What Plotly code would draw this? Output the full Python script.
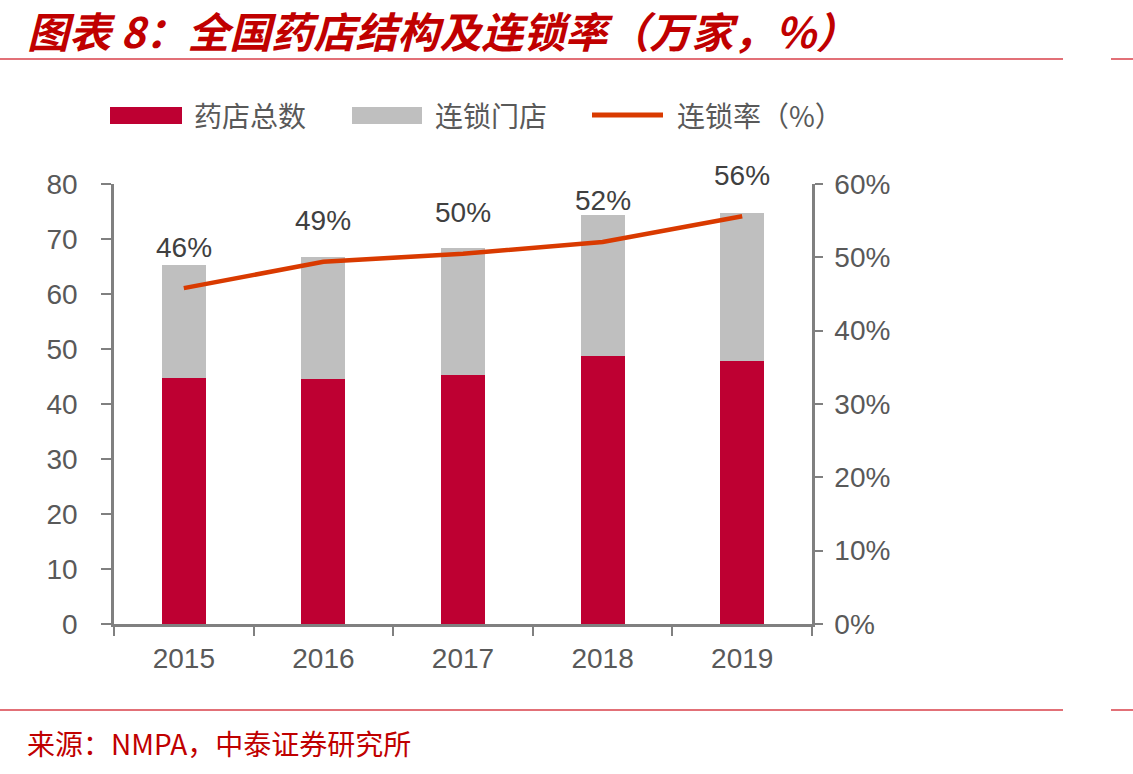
import plotly.graph_objects as go

years = ["2015", "2016", "2017", "2018", "2019"]
total_stores = [44.7, 44.6, 45.3, 48.7, 47.8]       # 药店总数 (red, bottom)
chain_stores = [20.5, 22.1, 23.0, 25.7, 26.9]       # 连锁门店 (gray, stacked on top)
chain_rate = [45.8, 49.4, 50.5, 52.1, 55.6]         # 连锁率 (%)
rate_labels = ["46%", "49%", "50%", "52%", "56%"]

RED = "#BE0032"
GRAY = "#BFBFBF"
LINE = "#D93A00"
TITLE_RED = "#C00000"
AXIS = "#808080"
TICKFONT = dict(family="Liberation Sans, Arial, sans-serif", size=28, color="#595959")

W, H = 1133, 774
L, R, T, B = 114, 812, 184, 624


def px(x):
    return (x - L) / (R - L)


def py(y):
    return (B - y) / (B - T)


fig = go.Figure()
fig.add_trace(go.Bar(x=years, y=total_stores, name="药店总数", marker_color=RED,
                     marker_line_width=0, width=0.315, showlegend=False))
fig.add_trace(go.Bar(x=years, y=chain_stores, name="连锁门店", marker_color=GRAY,
                     marker_line_width=0, width=0.315, showlegend=False))
fig.add_trace(go.Scatter(x=years, y=chain_rate, name="连锁率（%）", mode="lines",
                         line=dict(color=LINE, width=4.5), yaxis="y2", showlegend=False))

annotations = []
for i, (v, t) in enumerate(zip(chain_rate, rate_labels)):
    annotations.append(dict(x=i, y=v, yref="y2", xref="x", text=t, showarrow=False,
                            yshift=41, font=dict(family="Liberation Sans, Arial, sans-serif",
                                                 size=28, color="#404040")))

annotations.append(dict(xref="paper", yref="paper", x=px(25), y=py(30),
                        xanchor="left", yanchor="middle", showarrow=False,
                        text="<b><i>图表 8：全国药店结构及连锁率（万家，%）</i></b>",
                        font=dict(family="Noto Sans CJK SC, sans-serif", size=42, color=TITLE_RED)))
annotations.append(dict(xref="paper", yref="paper", x=px(25), y=py(743),
                        xanchor="left", yanchor="middle", showarrow=False,
                        text="来源：NMPA，中泰证券研究所",
                        font=dict(family="Noto Sans CJK SC, sans-serif", size=28, color=TITLE_RED)))

legend_font = dict(family="Noto Sans CJK SC, sans-serif", size=28, color="#595959")
for xpix, txt in [(192, "药店总数"), (433, "连锁门店"), (675, "连锁率（%）")]:
    annotations.append(dict(xref="paper", yref="paper", x=px(xpix), y=py(115),
                            xanchor="left", yanchor="middle", showarrow=False,
                            text=txt, font=legend_font))

RULE = "#D9414A"
shapes = [
    dict(type="line", xref="paper", yref="paper", x0=px(0), x1=px(1063), y0=py(59), y1=py(59),
         line=dict(color=RULE, width=1.5)),
    dict(type="line", xref="paper", yref="paper", x0=px(1111), x1=px(1133), y0=py(59), y1=py(59),
         line=dict(color=RULE, width=1.5)),
    dict(type="line", xref="paper", yref="paper", x0=px(0), x1=px(1063), y0=py(710), y1=py(710),
         line=dict(color=RULE, width=1.5)),
    dict(type="line", xref="paper", yref="paper", x0=px(1111), x1=px(1133), y0=py(710), y1=py(710),
         line=dict(color=RULE, width=1.5)),
    dict(type="rect", xref="paper", yref="paper", x0=px(110), x1=px(182), y0=py(124), y1=py(107),
         fillcolor=RED, line_width=0),
    dict(type="rect", xref="paper", yref="paper", x0=px(352), x1=px(422), y0=py(124), y1=py(107),
         fillcolor=GRAY, line_width=0),
    dict(type="line", xref="paper", yref="paper", x0=px(592), x1=px(663), y0=py(115), y1=py(115),
         line=dict(color=LINE, width=5)),
]

fig.update_layout(
    width=W, height=H,
    margin=dict(l=L, r=W - R, t=T, b=H - B, pad=0),
    paper_bgcolor="white", plot_bgcolor="white",
    barmode="stack",
    showlegend=False,
    annotations=annotations,
    shapes=shapes,
    xaxis=dict(type="category", range=[-0.5, 4.5], showline=True, linecolor=AXIS, linewidth=2.5,
               ticks="outside", ticklen=9, tickwidth=2, tickcolor=AXIS, tickson="boundaries",
               tickfont=TICKFONT, tickangle=0, showgrid=False, zeroline=False, ticklabelstandoff=8),
    yaxis=dict(range=[0, 80], dtick=10, showline=True, linecolor=AXIS, linewidth=2.5,
               ticks="outside", ticklen=10, tickwidth=2, tickcolor=AXIS,
               tickfont=TICKFONT, showgrid=False, zeroline=False, ticklabelstandoff=18),
    yaxis2=dict(range=[0, 60], dtick=10, overlaying="y", side="right", ticksuffix="%",
                showline=True, linecolor=AXIS, linewidth=2.5,
                ticks="outside", ticklen=8, tickwidth=2, tickcolor=AXIS,
                tickfont=TICKFONT, showgrid=False, zeroline=False, ticklabelstandoff=6),
)

fig.write_html("out.html")
